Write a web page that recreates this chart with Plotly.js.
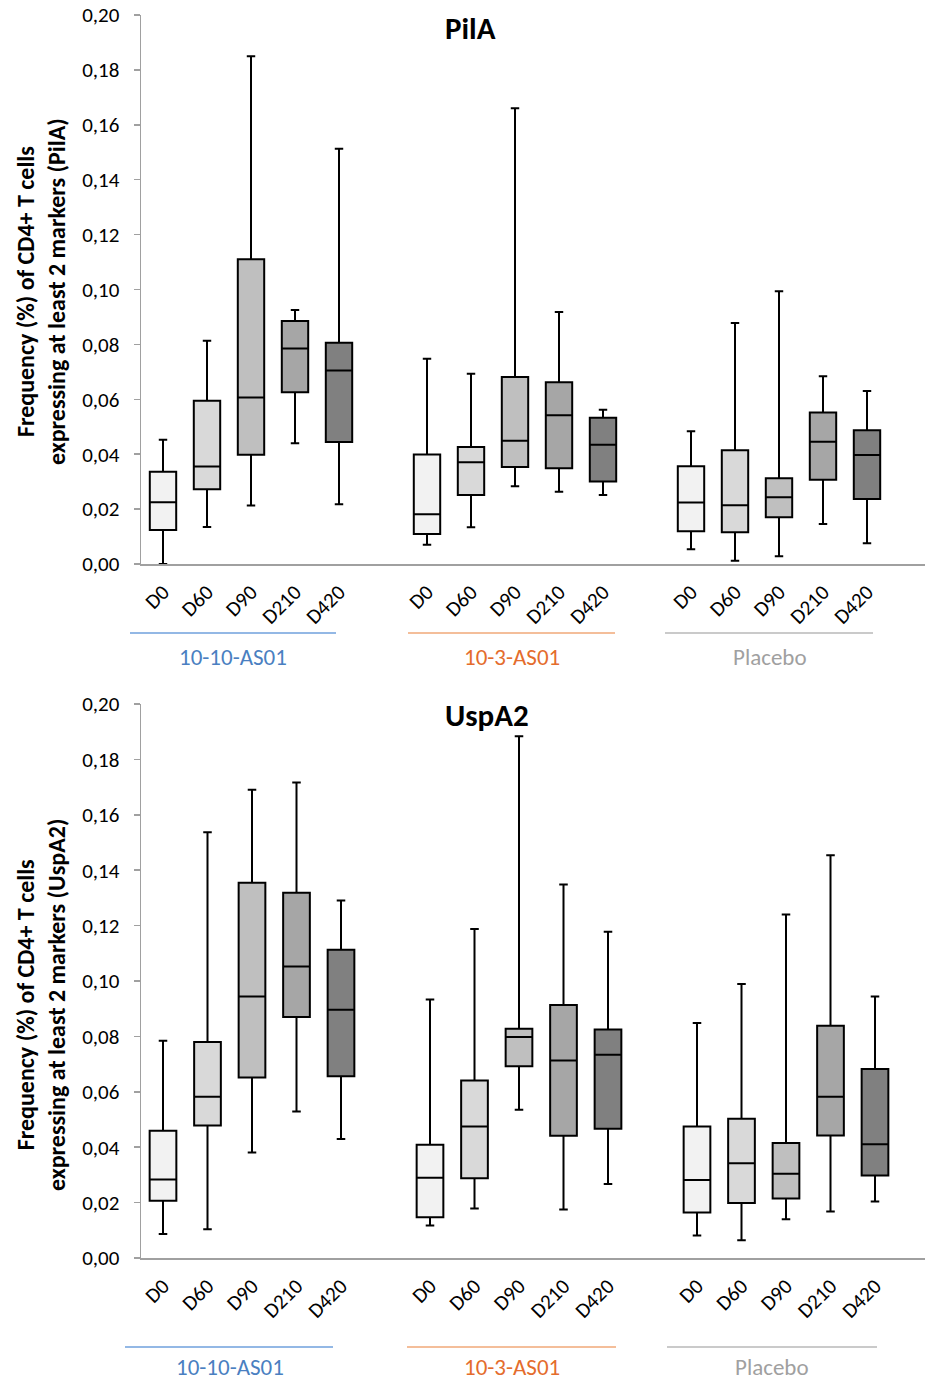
<!DOCTYPE html>
<html>
<head>
<meta charset="utf-8">
<script src="https://cdn.plot.ly/plotly-3.0.1.min.js"></script>
<style>html,body{margin:0;padding:0;background:#fff}#chart{width:927px;height:1383px}</style>
</head>
<body>
<div id="chart"></div>
<script>
// ---- data ----
const timepoints = ["D0", "D60", "D90", "D210", "D420"];
const groups = ["10-10-AS01", "10-3-AS01", "Placebo"];
const panels = ["PilA", "UspA2"];

// PilA: [group][timepoint]
const pilaLowerFence = [[0.000, 0.0135, 0.0213, 0.0440, 0.0218],[0.0070, 0.0134, 0.0283, 0.0263, 0.0251],[0.0054, 0.0012, 0.0028, 0.0146, 0.0076]];
const pilaQ1 = [[0.0124, 0.0272, 0.0398, 0.0626, 0.0444],[0.0109, 0.0251, 0.0353, 0.0349, 0.0301],[0.0119, 0.0116, 0.0170, 0.0307, 0.0237]];
const pilaMedian = [[0.0225, 0.0355, 0.0607, 0.0785, 0.0705],[0.0181, 0.0371, 0.0449, 0.0542, 0.0434],[0.0224, 0.0214, 0.0243, 0.0445, 0.0397]];
const pilaQ3 = [[0.0336, 0.0595, 0.1110, 0.0885, 0.0806],[0.0399, 0.0426, 0.0681, 0.0662, 0.0533],[0.0356, 0.0414, 0.0312, 0.0552, 0.0487]];
const pilaUpperFence = [[0.0453, 0.0813, 0.1850, 0.0925, 0.1513],[0.0748, 0.0693, 0.1660, 0.0918, 0.0562],[0.0484, 0.0878, 0.0994, 0.0684, 0.0630]];

// UspA2: [group][timepoint]
const uspLowerFence = [[0.0087, 0.0104, 0.0381, 0.0529, 0.0430],[0.0117, 0.0179, 0.0535, 0.0175, 0.0267],[0.0081, 0.0064, 0.0140, 0.0168, 0.0204]];
const uspQ1 = [[0.0207, 0.0478, 0.0652, 0.0870, 0.0656],[0.0147, 0.0288, 0.0692, 0.0441, 0.0467],[0.0164, 0.0199, 0.0215, 0.0442, 0.0298]];
const uspMedian = [[0.0283, 0.0582, 0.0944, 0.1052, 0.0896],[0.0290, 0.0475, 0.0798, 0.0713, 0.0734],[0.0282, 0.0342, 0.0304, 0.0582, 0.0411]];
const uspQ3 = [[0.0459, 0.0780, 0.1355, 0.1319, 0.1113],[0.0409, 0.0641, 0.0828, 0.0913, 0.0825],[0.0475, 0.0503, 0.0415, 0.0838, 0.0682]];
const uspUpperFence = [[0.0784, 0.1537, 0.1690, 0.1717, 0.1291],[0.0933, 0.1188, 0.1884, 0.1348, 0.1178],[0.0848, 0.0989, 0.1240, 0.1454, 0.0944]];

const yTickVals = [0, 0.02, 0.04, 0.06, 0.08, 0.10, 0.12, 0.14, 0.16, 0.18, 0.20];

// ---- styling ----
const fills = ["#f2f2f2", "#d9d9d9", "#bfbfbf", "#a6a6a6", "#808080"];
const groupTextColors = ["#4a7fc1", "#e46c2c", "#a0a0a0"];
const groupLineColors = ["#6fa0dc", "#f0a878", "#b8b8b8"];
const FONT = "Carlito, Lato, 'Open Sans', sans-serif";
const W = 927, H = 1383;
const px = v => v / W;
const py = v => 1 - v / H;

const stats = [
  {lf: pilaLowerFence, q1: pilaQ1, med: pilaMedian, q3: pilaQ3, uf: pilaUpperFence},
  {lf: uspLowerFence, q1: uspQ1, med: uspMedian, q3: uspQ3, uf: uspUpperFence}
];

const positions = [];
const tickLabels = [];
groups.forEach((g, gi) => timepoints.forEach((t, ti) => { positions.push(gi * 6 + ti); tickLabels.push(t); }));

const traces = [];
stats.forEach((s, pi) => {
  groups.forEach((g, gi) => {
    timepoints.forEach((t, ti) => {
      traces.push({
        type: "box",
        name: panels[pi] + " " + g + " " + t,
        x: [gi * 6 + ti],
        q1: [s.q1[gi][ti]], median: [s.med[gi][ti]], q3: [s.q3[gi][ti]],
        lowerfence: [s.lf[gi][ti]], upperfence: [s.uf[gi][ti]],
        xaxis: pi === 0 ? "x" : "x2",
        yaxis: pi === 0 ? "y" : "y2",
        width: 0.6,
        whiskerwidth: 0.32,
        boxpoints: false,
        fillcolor: fills[ti],
        line: {color: "#000000", width: 2},
        hoverinfo: "skip",
        showlegend: false
      });
    });
  });
});

// panel pixel geometry
const panelGeo = [
  {top: 15, bottom: 564, x0: 163, step: 44, lineY: 633, labelY: 657, titleY: 28, title: "PilA", titleX: 470,
   lines: [[130, 336], [408, 615], [665, 873]], labelX: [233, 512, 770], ytitle: "Frequency (%) of CD4+ T cells<br>expressing at least 2 markers (PilA)", ytitleY: 292},
  {top: 704, bottom: 1258, x0: 163, step: 44.5, lineY: 1347, labelY: 1367, titleY: 715, title: "UspA2", titleX: 487,
   lines: [[125, 333], [407, 616], [667, 877]], labelX: [230, 512, 772], ytitle: "Frequency (%) of CD4+ T cells<br>expressing at least 2 markers (UspA2)", ytitleY: 1005}
];

function xAxis(pg, anchor) {
  return {
    domain: [px(141), px(925)],
    range: [(141 - pg.x0) / pg.step, (925 - pg.x0) / pg.step],
    anchor: anchor,
    showgrid: false, zeroline: false,
    showline: true, linecolor: "#a0a0a0", linewidth: 1.5,
    ticks: "",
    tickmode: "array", tickvals: positions, ticktext: tickLabels,
    tickangle: -45,
    ticklabelstandoff: 6,
    tickfont: {family: FONT, size: 21, color: "#000"}
  };
}
function yAxis(pg, anchor) {
  return {
    domain: [py(pg.bottom), py(pg.top)],
    range: [0, 0.2],
    anchor: anchor,
    showgrid: false, zeroline: false,
    showline: true, linecolor: "#a0a0a0", linewidth: 1.5,
    ticks: "outside", ticklen: 6, tickcolor: "#a0a0a0", tickwidth: 1.5,
    tickmode: "array", tickvals: yTickVals,
    tickformat: ".2f",
    ticklabelstandoff: 10,
    tickfont: {family: FONT, size: 21, color: "#000"}
  };
}

const shapes = [];
const annotations = [];
panelGeo.forEach((pg, pi) => {
  pg.lines.forEach((l, gi) => {
    shapes.push({type: "line", xref: "paper", yref: "paper", x0: px(l[0]), x1: px(l[1]), y0: py(pg.lineY), y1: py(pg.lineY),
      line: {color: groupLineColors[gi], width: 1.5}});
  });
  groups.forEach((g, gi) => {
    annotations.push({text: g, xref: "paper", yref: "paper", x: px(pg.labelX[gi]), y: py(pg.labelY), xanchor: "center", yanchor: "middle",
      showarrow: false, font: {family: FONT, size: 23, color: groupTextColors[gi]}});
  });
  annotations.push({text: "<b>" + pg.title + "</b>", xref: "paper", yref: "paper", x: px(pg.titleX), y: py(pg.titleY), xanchor: "center", yanchor: "middle",
    showarrow: false, font: {family: FONT, size: 31, color: "#000"}});
  annotations.push({text: "<b>" + pg.ytitle + "</b>", xref: "paper", yref: "paper", x: px(41), y: py(pg.ytitleY), xanchor: "center", yanchor: "middle",
    textangle: -90, showarrow: false, font: {family: FONT, size: 24, color: "#000"}});
});

const layout = {
  width: W, height: H,
  margin: {l: 0, r: 0, t: 0, b: 0},
  paper_bgcolor: "#fff", plot_bgcolor: "#fff",
  separators: ",.",
  showlegend: false,
  boxmode: "overlay",
  xaxis: xAxis(panelGeo[0], "y"),
  yaxis: yAxis(panelGeo[0], "x"),
  xaxis2: xAxis(panelGeo[1], "y2"),
  yaxis2: yAxis(panelGeo[1], "x2"),
  shapes: shapes,
  annotations: annotations
};

Plotly.newPlot("chart", traces, layout, {displayModeBar: false, staticPlot: true});
</script>
</body>
</html>
